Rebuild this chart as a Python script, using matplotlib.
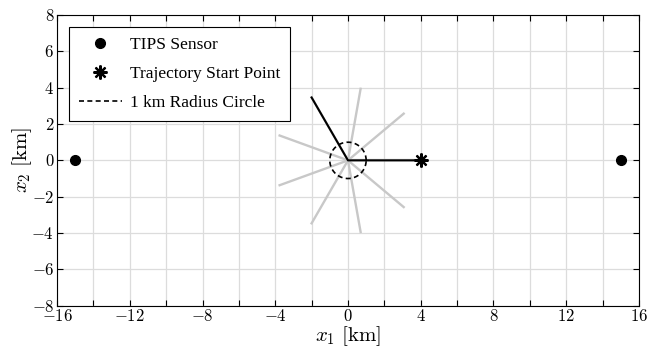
import matplotlib.pyplot as plt
import numpy as np

plt.rcParams['font.family'] = ['Liberation Serif', 'DejaVu Serif']
plt.rcParams['mathtext.fontset'] = 'cm'

# data
sensor_x = [-15, 15]
sensor_y = [0, 0]
start_pt = (4, 0)
spoke_angles_deg = [0, 40, 80, 120, 160, 200, 240, 280, 320]
spoke_len = 4.0
traj_x = [4, 0, -2.0]
traj_y = [0, 0, 3.46]
circle_r = 1.0

x_ticks = [-16, -12, -8, -4, 0, 4, 8, 12, 16]
y_ticks = [-8, -6, -4, -2, 0, 2, 4, 6, 8]

fig = plt.figure(figsize=(6.48, 3.49), dpi=100)
ax = fig.add_axes([0.088, 0.124, 0.898, 0.833])

# gray candidate directions
for a in spoke_angles_deg:
    t = np.deg2rad(a)
    ax.plot([0, spoke_len * np.cos(t)], [0, spoke_len * np.sin(t)],
            color='#c8c8c8', lw=1.7, zorder=2)

ax.plot(traj_x, traj_y, color='black', lw=1.5, zorder=3)

th = np.linspace(0, 2 * np.pi, 200)
ax.plot(circle_r * np.cos(th), circle_r * np.sin(th), 'k--', lw=1.2,
        dashes=(3, 2), zorder=4, label='1 km Radius Circle')

ax.plot(sensor_x, sensor_y, 'o', color='black', ms=7, ls='none',
        zorder=5, label='TIPS Sensor')
ax.plot([start_pt[0]], [start_pt[1]], marker=(8, 2, 0), color='black',
        ms=10, mew=1.6, ls='none', zorder=5, label='Trajectory Start Point')

ax.set_xlim(-16, 16)
ax.set_ylim(-8, 8)
ax.set_xticks(x_ticks)
ax.set_xticklabels(['$%d$' % v if v >= 0 else '$-%d$' % -v for v in x_ticks])
ax.set_xticks(np.arange(-14, 16, 4), minor=True)
ax.set_yticks(y_ticks)
ax.set_yticklabels(['$%d$' % v if v >= 0 else '$-%d$' % -v for v in y_ticks])
ax.tick_params(which='both', direction='in', top=True, right=True,
               labelsize=12, pad=2)
ax.tick_params(which='major', length=4, width=0.8)
ax.tick_params(which='minor', length=4, width=0.8)
ax.grid(which='both', color='#dcdcdc', lw=0.9, zorder=0)
ax.set_axisbelow(True)
for s in ax.spines.values():
    s.set_linewidth(0.8)

ax.set_xlabel(r'$x_1\ \mathrm{[km]}$', fontsize=15, labelpad=0)
ax.set_ylabel(r'$x_2\ \mathrm{[km]}$', fontsize=15, labelpad=-2)

h, l = ax.get_legend_handles_labels()
order = [1, 2, 0]
leg = ax.legend([h[i] for i in order], [l[i] for i in order], loc='upper left',
                prop={'size': 12.5}, fancybox=False, edgecolor='black',
                framealpha=1, borderaxespad=0.7, borderpad=0.55,
                handlelength=2.5, handletextpad=0.45, labelspacing=0.75)
leg.get_frame().set_linewidth(0.8)

fig.savefig('out.png', dpi=100)
